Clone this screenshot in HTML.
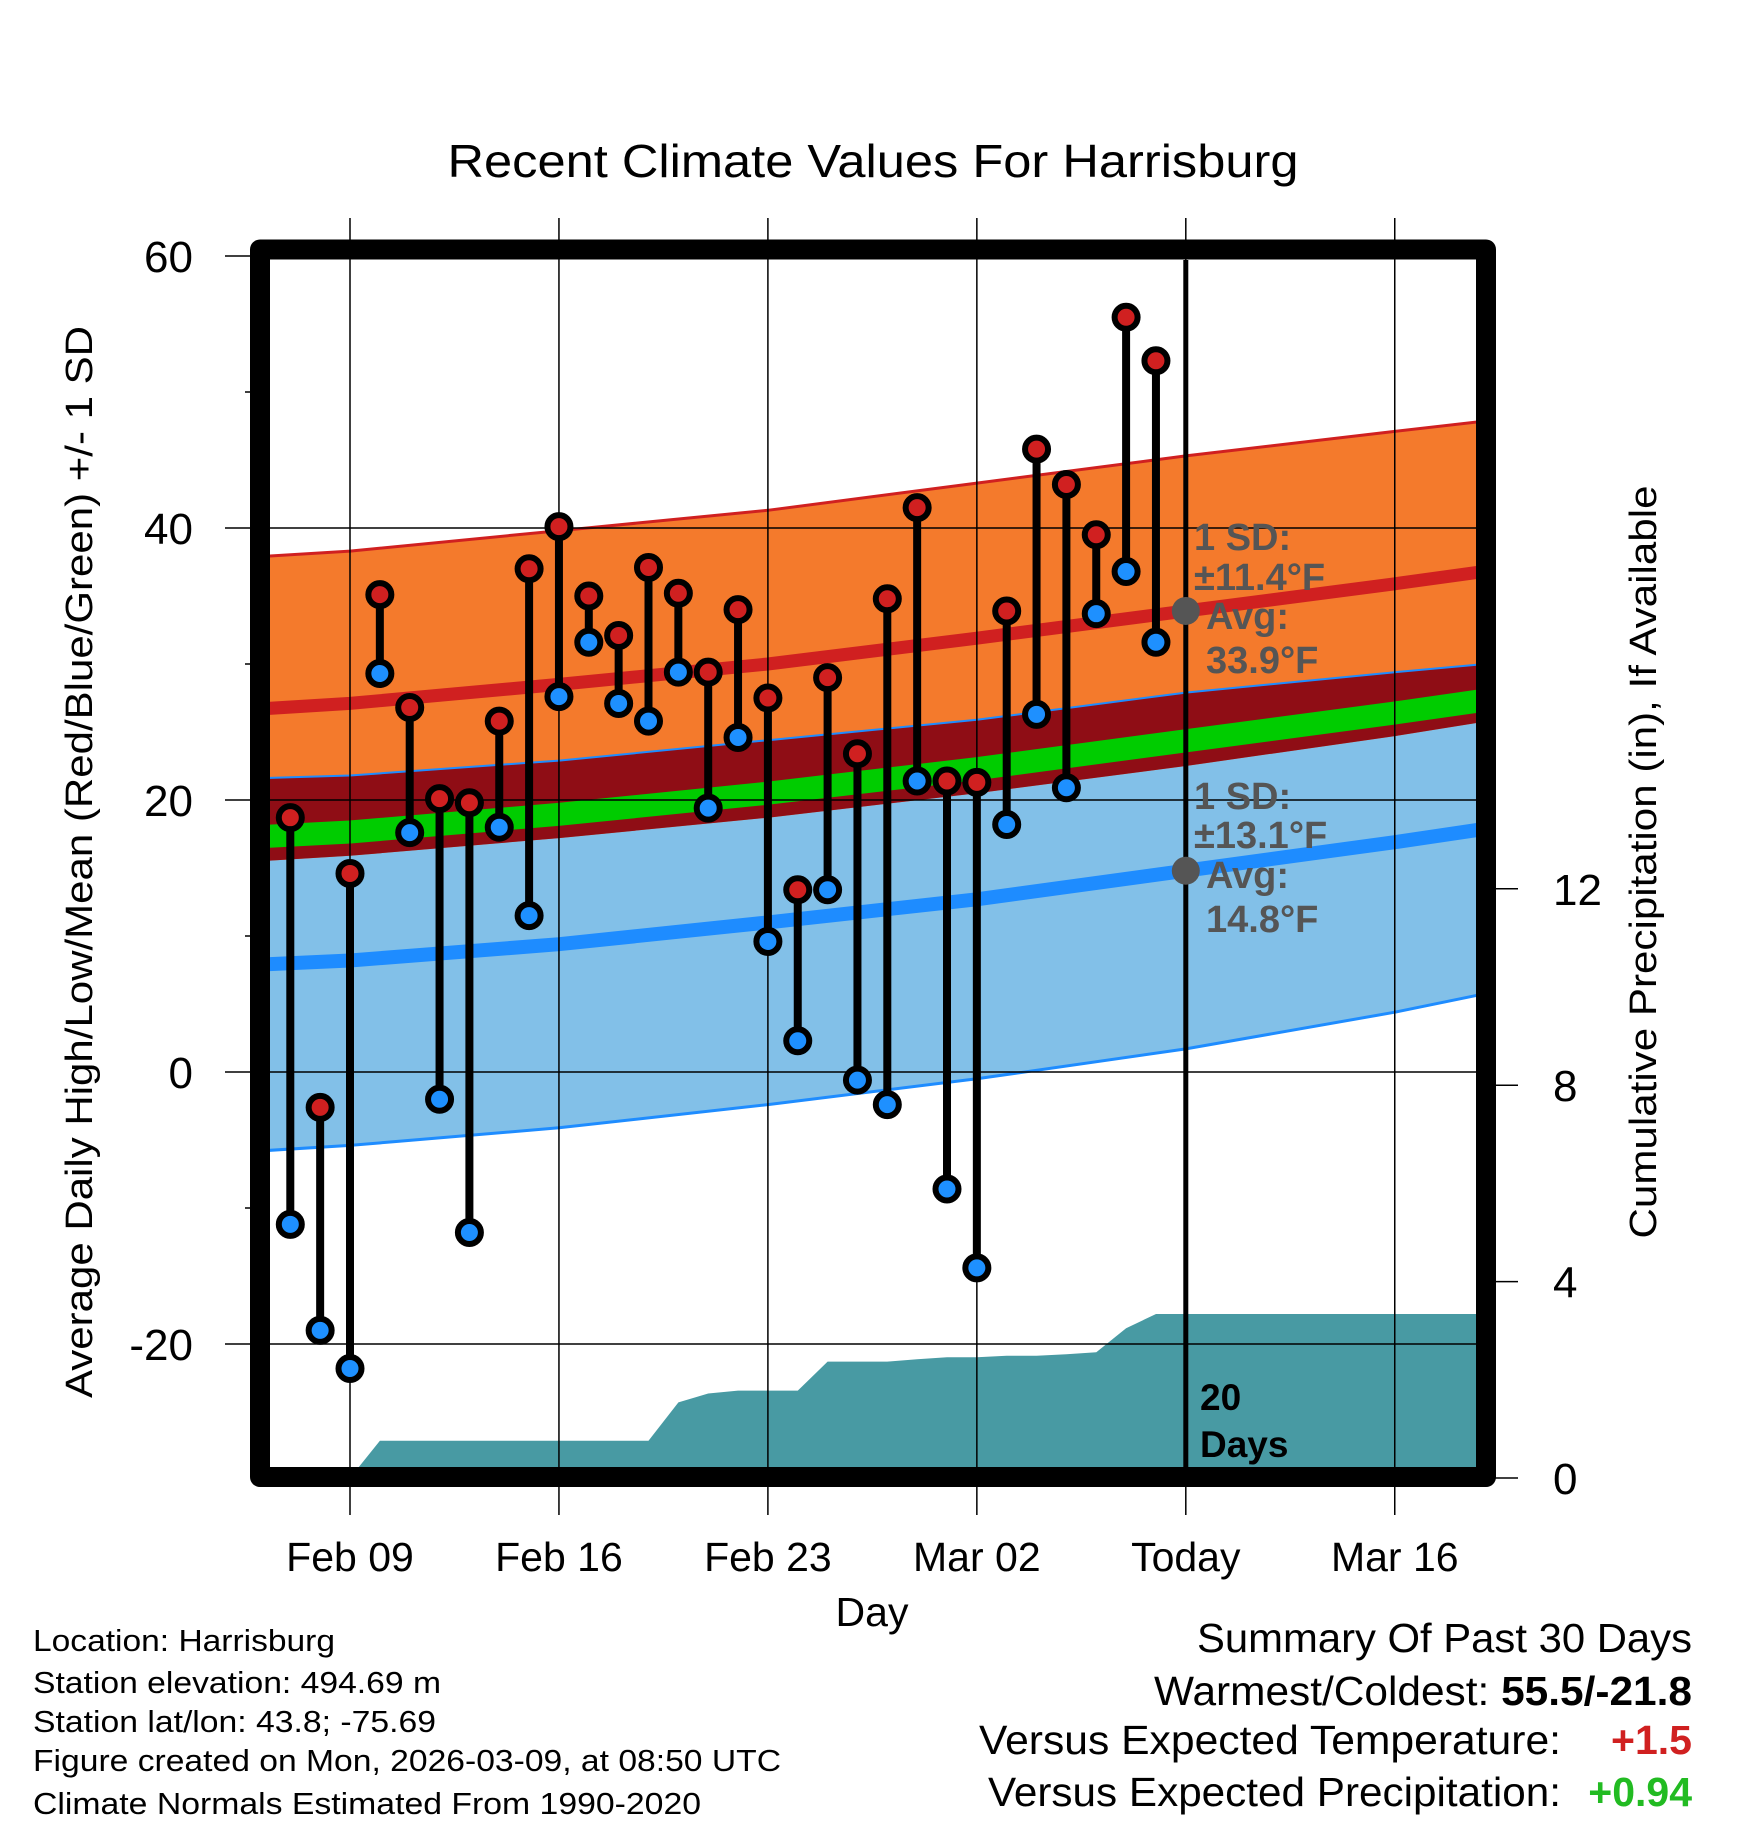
<!DOCTYPE html>
<html><head><meta charset="utf-8"><style>
html,body{margin:0;padding:0;background:#fff;}
svg{display:block;font-family:"Liberation Sans",Arial,sans-serif;}
</style></head><body>
<svg id="chart" width="1748" height="1828" viewBox="0 0 1748 1828" xmlns="http://www.w3.org/2000/svg">
<defs><clipPath id="plotclip"><rect x="270" y="260" width="1208" height="1208"/></clipPath></defs>
<rect x="0" y="0" width="1748" height="1828" fill="#fff"/>
<text x="873" y="177" font-size="46" text-anchor="middle" textLength="851" lengthAdjust="spacingAndGlyphs">Recent Climate Values For Harrisburg</text>
<g id="bands" clip-path="url(#plotclip)"></g>
<g id="grid"></g>
<g id="marks" clip-path="url(#plotclip)"></g>
<g id="axes"></g>
<rect x="260" y="249.5" width="1226" height="1227.5" fill="none" stroke="#000" stroke-width="20" stroke-linejoin="round"/>
<text transform="translate(92,862) rotate(-90)" font-size="38" text-anchor="middle" textLength="1072" lengthAdjust="spacingAndGlyphs">Average Daily High/Low/Mean (Red/Blue/Green) +/- 1 SD</text>
<text transform="translate(1656,862) rotate(-90)" font-size="38" text-anchor="middle" textLength="753" lengthAdjust="spacingAndGlyphs">Cumulative Precipitation (in), If Available</text>
<text x="872" y="1626" font-size="41" text-anchor="middle">Day</text>
<g font-size="31">
<text x="33" y="1651" textLength="302" lengthAdjust="spacingAndGlyphs">Location: Harrisburg</text>
<text x="33" y="1693" textLength="408" lengthAdjust="spacingAndGlyphs">Station elevation: 494.69 m</text>
<text x="33" y="1732" textLength="403" lengthAdjust="spacingAndGlyphs">Station lat/lon: 43.8; -75.69</text>
<text x="33" y="1771" textLength="748" lengthAdjust="spacingAndGlyphs">Figure created on Mon, 2026-03-09, at 08:50 UTC</text>
<text x="33" y="1814" textLength="668" lengthAdjust="spacingAndGlyphs">Climate Normals Estimated From 1990-2020</text>
</g>
<g font-size="41" text-anchor="end">
<text x="1692" y="1652" textLength="495" lengthAdjust="spacingAndGlyphs">Summary Of Past 30 Days</text>
<text x="1692" y="1705" textLength="538" lengthAdjust="spacingAndGlyphs">Warmest/Coldest: <tspan font-weight="bold">55.5/-21.8</tspan></text>
<text x="1561" y="1754" textLength="582" lengthAdjust="spacingAndGlyphs">Versus Expected Temperature:</text>
<text x="1692" y="1754" font-weight="bold" fill="#d02020">+1.5</text>
<text x="1561" y="1806" textLength="573" lengthAdjust="spacingAndGlyphs">Versus Expected Precipitation:</text>
<text x="1692" y="1806" font-weight="bold" fill="#22bb22">+0.94</text>
</g>
<script>
const normDays=[-3,0,7,14,21,28,35,39];
const hiAvg=[26.7,27.1,28.5,30.0,31.9,33.9,35.9,37.1];
const hiSD=[11.2,11.2,11.3,11.3,11.4,11.4,11.2,11.0];
const loAvg=[7.9,8.2,9.4,11.0,12.7,14.8,16.9,18.2];
const loSD=[13.7,13.6,13.5,13.4,13.2,13.1,12.5,12.0];
const obsDays=[-2,-1,0,1,2,3,4,5,6,7,8,9,10,11,12,13,14,15,16,17,18,19,20,21,22,23,24,25,26,27];
const highs=[18.7,-2.6,14.6,35.1,26.8,20.1,19.8,25.8,37.0,40.1,35.0,32.1,37.1,35.2,29.4,34.0,27.5,13.4,29.0,23.4,34.8,41.5,21.4,21.3,33.9,45.8,43.2,39.5,55.5,52.3];
const lows=[-11.2,-19.0,-21.8,29.3,17.6,-2.0,-11.8,18.0,11.5,27.6,31.6,27.1,25.8,29.4,19.4,24.6,9.6,2.3,13.4,-0.6,-2.4,21.4,-8.6,-14.4,18.2,26.3,20.9,33.7,36.8,31.6];
const precip=[0,0,0,0.76,0.76,0.76,0.76,0.76,0.76,0.76,0.76,0.76,0.76,1.54,1.72,1.78,1.78,1.78,2.37,2.37,2.37,2.42,2.46,2.46,2.49,2.49,2.52,2.56,3.05,3.34];
const xTickDays=[0,7,14,21,28,35];
const xTickLabels=["Feb 09","Feb 16","Feb 23","Mar 02","Today","Mar 16"];
const yTicks=[60,40,20,0,-20];
const yMinor=[50,30,10,-10];
const pTicks=[0,4,8,12];
const todayDay=28;

const NS="http://www.w3.org/2000/svg";
const X=d=>350+d*29.85;
const Y=v=>256+(60-v)*13.6;
const P=p=>1478-p*49.1;
function mk(tag,attrs,parent){const e=document.createElementNS(NS,tag);for(const k in attrs)e.setAttribute(k,attrs[k]);parent.appendChild(e);return e;}
const bands=document.getElementById('bands'),grid=document.getElementById('grid'),marks=document.getElementById('marks'),axes=document.getElementById('axes');
function series(f){return normDays.map((d,i)=>[X(d),Y(f(i))]);}
function pts(a){return a.map(p=>p[0].toFixed(1)+','+p[1].toFixed(1)).join(' ');}
const hiTop=series(i=>hiAvg[i]+hiSD[i]),hiBot=series(i=>hiAvg[i]-hiSD[i]);
const loTop=series(i=>loAvg[i]+loSD[i]),loBot=series(i=>loAvg[i]-loSD[i]);
let e;
e=mk('polygon',{points:pts(loTop.concat(loBot.slice().reverse())),fill:'#82c0e8'},bands);

e=mk('polygon',{points:pts(hiTop.concat(hiBot.slice().reverse())),fill:'#f47a2c'},bands);

e=mk('polygon',{points:pts(loTop.concat(hiBot.slice().reverse())),fill:'#8f0d15'},bands);

e=mk('polyline',{points:pts(series(i=>(hiAvg[i]+loAvg[i])/2)),fill:'none',stroke:'#00cc00','stroke-width':23},bands);

e=mk('polyline',{points:pts(hiTop),fill:'none',stroke:'#d02020','stroke-width':3},bands);

e=mk('polyline',{points:pts(loTop),fill:'none',stroke:'#1e8cff','stroke-width':2},bands);

e=mk('polyline',{points:pts(loBot),fill:'none',stroke:'#1e8cff','stroke-width':3},bands);

e=mk('polyline',{points:pts(series(i=>hiAvg[i])),fill:'none',stroke:'#d02020','stroke-width':13},bands);

e=mk('polyline',{points:pts(series(i=>loAvg[i])),fill:'none',stroke:'#1e8cff','stroke-width':14},bands);

let pp=obsDays.map((d,i)=>[X(d),P(precip[i])]);
pp.push([1480,P(precip[precip.length-1])]);
pp.push([1480,P(0)]);pp.push([X(obsDays[0]),P(0)]);
e=mk('polygon',{points:pts(pp),fill:'#489aa3'},bands);

yTicks.forEach(v=>{
  e=mk('line',{x1:225,x2:1478,y1:Y(v),y2:Y(v),stroke:'#000','stroke-width':1.5},grid);
  
  e=mk('text',{x:193,y:Y(v)+16,'font-size':44,'text-anchor':'end'},axes);e.textContent=v;
  
});
yMinor.forEach(v=>{
  e=mk('line',{x1:245,x2:262,y1:Y(v),y2:Y(v),stroke:'#000','stroke-width':1.5},grid);
  
});
xTickDays.forEach((d,i)=>{
  e=mk('line',{x1:X(d),x2:X(d),y1:218,y2:1515,stroke:'#000','stroke-width':1.5},grid);
  
  e=mk('text',{x:X(d),y:1571,'font-size':41,'text-anchor':'middle'},axes);e.textContent=xTickLabels[i];
  
});
pTicks.forEach(p=>{
  e=mk('line',{x1:1490,x2:1518,y1:P(p),y2:P(p),stroke:'#000','stroke-width':1.5},axes);
  
  e=mk('text',{x:1553,y:P(p)+16,'font-size':44},axes);e.textContent=p;
  
});
obsDays.forEach((d,i)=>{
  e=mk('line',{x1:X(d),x2:X(d),y1:Y(highs[i]),y2:Y(lows[i]),stroke:'#000','stroke-width':8},marks);
  
});
obsDays.forEach((d,i)=>{
  e=mk('circle',{cx:X(d),cy:Y(highs[i]),r:11.5,fill:'#d02020',stroke:'#000','stroke-width':6},marks);
  
  e=mk('circle',{cx:X(d),cy:Y(lows[i]),r:11.5,fill:'#1e90ff',stroke:'#000','stroke-width':6},marks);
  
});
e=mk('line',{x1:X(todayDay),x2:X(todayDay),y1:258,y2:1470,stroke:'#000','stroke-width':5},marks);

const ti=normDays.indexOf(todayDay);
e=mk('circle',{cx:X(todayDay),cy:Y(hiAvg[ti]),r:14,fill:'#555'},marks);

e=mk('circle',{cx:X(todayDay),cy:Y(loAvg[ti]),r:14,fill:'#555'},marks);

function ann(lines,ys,name){
  const g=mk('g',{'font-size':38,'font-weight':'bold',fill:'#555'},marks);
  
  
  lines.forEach((t,k)=>{const tx=mk('text',{x:k<2?1194:1206,y:ys[k]},g);tx.textContent=t;});
}
ann(["1 SD:","\u00b1"+hiSD[ti].toFixed(1)+"\u00b0F","Avg:",hiAvg[ti].toFixed(1)+"\u00b0F"],[550,590,629,673],'high-normal-annotation');
ann(["1 SD:","\u00b1"+loSD[ti].toFixed(1)+"\u00b0F","Avg:",loAvg[ti].toFixed(1)+"\u00b0F"],[809,848,888,932],'low-normal-annotation');
const dg=mk('g',{'font-size':37,'font-weight':'bold',fill:'#000'},marks);


mk('text',{x:1200,y:1410},dg).textContent="20";
mk('text',{x:1200,y:1457},dg).textContent="Days";
</script>
</svg>
</body></html>
